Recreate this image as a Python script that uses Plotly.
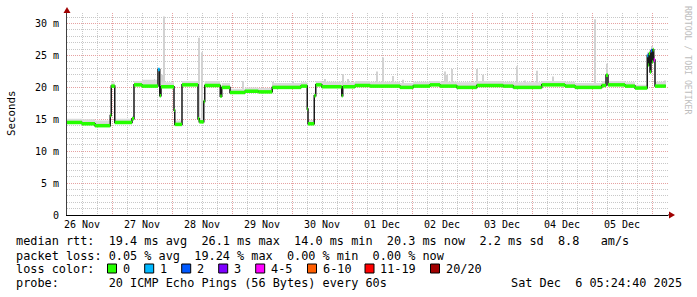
import pandas as pd
import plotly.graph_objects as go

# ---------------- data ----------------
START = "2025-11-26 06:00"
END = "2025-12-06 06:24"

# median RTT step series: hours since START, value in ms
median_hours = [0.0, 6.0, 11.2, 17.3, 17.7, 19.1, 26.0, 26.8, 30.0, 36.4,
                37.1, 37.6, 42.8, 43.1, 46.0, 52.4, 52.9, 54.7, 55.1, 61.3,
                61.9, 65.2, 71.2, 76.5, 82.1, 93.6, 96.1, 96.4, 98.9, 99.5,
                101.9, 109.9, 110.3, 115.2, 121.2, 133.2, 138.5, 145.2, 149.2, 155.9,
                163.9, 174.5, 178.5, 189.9, 199.2, 203.2, 213.9, 215.6, 216.4, 223.2,
                227.2, 232.1, 232.5, 232.8, 233.2, 233.6, 234.0, 234.3, 234.7, 235.2,
                239.5]
median_ms = [14.5, 14.3, 14.0, 15.6, 20.2, 14.5, 15.1, 20.4, 20.2, 22.8,
             18.7, 20.1, 16.4, 14.2, 20.4, 15.1, 14.6, 17.8, 20.3, 18.6,
             20.0, 19.2, 19.4, 19.3, 20.0, 20.2, 16.6, 14.3, 18.7, 20.4,
             20.1, 18.7, 20.1, 20.3, 20.2, 20.0, 20.2, 20.4, 20.2, 20.0,
             20.3, 20.2, 20.0, 20.4, 20.2, 20.0, 20.3, 21.9, 20.4, 20.2,
             19.9, 25.0, 23.5, 25.3, 22.4, 25.8, 24.0, 25.9, 24.3, 20.2,
             20.2]
# loss class of each median segment (index into loss_labels)
median_loss = [0, 0, 0, 0, 0, 0, 0, 0, 0, 1,
               0, 0, 0, 0, 0, 0, 0, 0, 0, 0,
               0, 0, 0, 0, 0, 0, 0, 0, 0, 0,
               0, 0, 0, 0, 0, 0, 0, 0, 0, 0,
               0, 0, 0, 0, 0, 0, 0, 0, 0, 0,
               0, 1, 0, 0, 0, 2, 0, 0, 4, 0]
# top of the smoke band for each median segment (ms)
smoke_top_ms = [15.1, 15.0, 14.8, 16.0, 20.8, 15.1, 15.5, 21.0, 21.2, 23.0,
                20.5, 20.8, 17.0, 14.8, 21.0, 15.5, 15.2, 18.3, 21.0, 19.5,
                20.7, 19.8, 20.0, 19.9, 20.7, 20.8, 17.0, 14.9, 19.2, 21.0,
                20.9, 19.3, 20.8, 21.0, 20.9, 20.7, 20.9, 21.0, 20.9, 20.8,
                21.0, 20.9, 20.8, 21.0, 20.9, 20.7, 21.0, 22.3, 21.0, 20.8,
                20.4, 25.6, 24.0, 25.8, 23.0, 26.2, 24.6, 26.3, 25.0, 20.9,
                20.9]

# isolated smoke spikes
spike_hours = [35.0, 38.0, 38.7, 52.7, 54.0, 70.5, 82.5, 90.5, 103.2, 110.5,
               112.5, 123.9, 126.5, 130.5, 134.5, 151.2, 152.1, 153.9, 163.9, 166.3,
               179.9, 183.2, 187.9, 194.5, 211.2, 215.9, 233.9, 239.2]
spike_base_ms = [20.2, 20.1, 20.1, 15.0, 14.6, 19.4, 20.0, 20.0, 20.1, 20.1,
                 20.1, 20.2, 20.2, 20.2, 20.0, 20.0, 20.0, 20.0, 20.3, 20.3,
                 20.0, 20.0, 20.4, 20.4, 20.0, 20.4, 25.0, 20.2]
spike_top_ms = [21.3, 22.0, 31.1, 27.8, 25.5, 21.0, 20.9, 21.0, 21.3, 22.1,
                21.3, 22.5, 24.7, 21.8, 21.2, 22.5, 22.0, 22.9, 22.9, 22.0,
                23.3, 21.1, 22.6, 21.7, 30.7, 23.7, 26.5, 21.1]

loss_labels = ["0", "1", "2", "3", "4-5", "6-10", "11-19", "20/20"]
loss_colors = ["#26ff00", "#00b8ff", "#0059ff", "#7e00ff", "#ff00ff",
               "#ff5e00", "#ff0000", "#a10000"]

y_tickvals = [0, 5, 10, 15, 20, 25, 30]
y_ticktext = ["0", "5 m", "10 m", "15 m", "20 m", "25 m", "30 m"]

rtt_line = "median rtt:  19.4 ms avg  26.1 ms max  14.0 ms min  20.3 ms now  2.2 ms sd  8.8   am/s"
loss_line = "packet loss: 0.05 % avg  19.24 % max  0.00 % min  0.00 % now"
color_title = "loss color:"
probe_line = "probe:       20 ICMP Echo Pings (56 Bytes) every 60s"
stamp_line = "Sat Dec  6 05:24:40 2025"
credit = "RRDTOOL / TOBI OETIKER"

# ---------------- figure ----------------
W, H = 697, 297
L, R, T, B = 67, 29, 13, 82
PW, PH = W - L - R, H - T - B
MONO = "DejaVu Sans Mono"


def px_x(px):
    return (px - L) / PW


def px_y(py):
    return (H - B - py) / PH


def nb(s):
    return s.replace(" ", "\u00a0")


t0 = pd.Timestamp(START)
mt = [t0 + pd.Timedelta(hours=h) for h in median_hours]
st = [t0 + pd.Timedelta(hours=h) for h in spike_hours]

fig = go.Figure()

# smoke band (median -> smoke top)
fig.add_trace(go.Scatter(x=mt, y=median_ms, mode="lines", line=dict(width=0, shape="hv"),
                         hoverinfo="skip", showlegend=False))
fig.add_trace(go.Scatter(x=mt, y=smoke_top_ms, mode="lines", line=dict(width=0, shape="hv"),
                         fill="tonexty", fillcolor="#dadada", hoverinfo="skip", showlegend=False))

# smoke spikes
fig.add_trace(go.Bar(x=st, base=spike_base_ms,
                     y=[t - b for t, b in zip(spike_top_ms, spike_base_ms)],
                     width=24 * 60 * 1000, marker=dict(color="#d2d2d2", line=dict(width=0)),
                     hoverinfo="skip", showlegend=False))

# black median line
fig.add_trace(go.Scatter(x=mt, y=median_ms, mode="lines",
                         line=dict(color="#1a1a1a", width=1.5, shape="hv"),
                         hoverinfo="skip", showlegend=False))

# coloured median segments by loss class
for ci, col in enumerate(loss_colors):
    xs, ys = [], []
    for i, c in enumerate(median_loss):
        if c == ci:
            xs += [mt[i], mt[i + 1], None]
            ys += [median_ms[i], median_ms[i], None]
    if xs:
        fig.add_trace(go.Scatter(x=xs, y=ys, mode="lines", line=dict(color=col, width=3.5),
                                 hoverinfo="skip", showlegend=False, connectgaps=False))

major_grid = "#e6a2a2"
minor_grid = "#c8c8c8"
dots = "1px,1px"

fig.update_layout(
    width=W, height=H,
    margin=dict(l=L, r=R, t=T, b=B, autoexpand=False),
    paper_bgcolor="white", plot_bgcolor="white",
    barmode="overlay",
    showlegend=False,
    font=dict(family=MONO, size=10, color="#000000"),
    xaxis=dict(
        type="date", range=[START, END],
        tickmode="linear", tick0="2025-11-27", dtick=86400000,
        tickformat="%d %b", ticklabelmode="period",
        showgrid=True, gridcolor=major_grid, griddash=dots, gridwidth=1,
        minor=dict(tickmode="linear", tick0="2025-11-27", dtick=21600000,
                   showgrid=True, gridcolor=minor_grid, griddash=dots, gridwidth=1),
        showline=True, linecolor="#000000", linewidth=1,
        ticks="", zeroline=False,
        tickfont=dict(family=MONO, size=10, color="#000000"),
        fixedrange=True,
    ),
    yaxis=dict(
        range=[0, PH / 6.38],
        tickmode="array", tickvals=y_tickvals, ticktext=y_ticktext,
        showgrid=True, gridcolor=major_grid, griddash=dots, gridwidth=1,
        minor=dict(tickmode="linear", tick0=0, dtick=1,
                   showgrid=True, gridcolor=minor_grid, griddash=dots, gridwidth=1),
        showline=True, linecolor="#404040", linewidth=1,
        ticks="", zeroline=False, ticklabelstandoff=5,
        tickfont=dict(family=MONO, size=10, color="#000000"),
        fixedrange=True,
    ),
)

ann = []


def text(s, px, py, anchor="left", size=11.85, color="#000000", angle=0):
    ann.append(dict(text=nb(s), x=px_x(px), y=px_y(py), xref="paper", yref="paper",
                    xanchor=anchor, yanchor="middle", showarrow=False,
                    borderpad=0, borderwidth=0, textangle=angle,
                    font=dict(family=MONO, size=size, color=color)))


text(rtt_line, 16, 241.5)
text(loss_line, 16, 255.5)
text(color_title, 16, 269)
text(probe_line, 16, 283)
text(stamp_line, 682, 283, anchor="right")

ann.append(dict(text="Seconds", x=px_x(11), y=px_y(113), xref="paper", yref="paper",
                xanchor="center", yanchor="middle", showarrow=False, textangle=-90,
                font=dict(family=MONO, size=10.8, color="#000000")))
ann.append(dict(text=nb(credit), x=px_x(688), y=px_y(60), xref="paper", yref="paper",
                xanchor="center", yanchor="middle", showarrow=False, textangle=90,
                font=dict(family=MONO, size=8.2, color="#bdbdbd")))

square_px = [107.5, 144.7, 181.7, 218.7, 255.7, 307.5, 365.0, 430.5]
label_px = [123.3, 160.0, 197.3, 234.0, 270.7, 322.5, 380.3, 445.7]
shapes = []
for sx, lx, lab, col in zip(square_px, label_px, loss_labels, loss_colors):
    shapes.append(dict(type="rect", xref="paper", yref="paper",
                       x0=px_x(sx), x1=px_x(sx + 9), y0=px_y(273), y1=px_y(264),
                       fillcolor=col, line=dict(color="#000000", width=1)))
    text(lab, lx, 269)

# axis arrows
arrow_col = "#a00000"
shapes.append(dict(type="path", xref="paper", yref="paper",
                   path=f"M {px_x(63.5)} {px_y(13)} L {px_x(70.5)} {px_y(13)} L {px_x(67)} {px_y(7)} Z",
                   fillcolor=arrow_col, line=dict(color=arrow_col, width=0)))
shapes.append(dict(type="line", xref="paper", yref="paper",
                   x0=px_x(668), x1=px_x(670), y0=px_y(215), y1=px_y(215),
                   line=dict(color="#000000", width=1)))
shapes.append(dict(type="path", xref="paper", yref="paper",
                   path=f"M {px_x(669)} {px_y(211.5)} L {px_x(669)} {px_y(218.5)} L {px_x(675)} {px_y(215)} Z",
                   fillcolor=arrow_col, line=dict(color=arrow_col, width=0)))

fig.update_layout(annotations=ann, shapes=shapes)

fig.write_html("out.html")
